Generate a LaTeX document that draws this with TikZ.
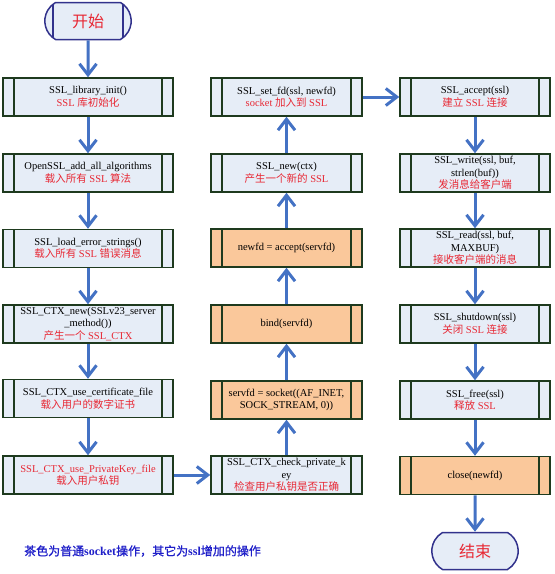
\documentclass[tikz,border=0pt]{standalone}
\usepackage{fontspec}
\setmainfont{Liberation Serif}
\newfontfamily\cjk{Noto Sans CJK SC}
\newfontfamily\cjknote{Noto Sans CJK SC}[FakeBold=1]
\usetikzlibrary{arrows.meta,shapes.misc}
\definecolor{boxblue}{RGB}{230,237,247}
\definecolor{boxtan}{RGB}{250,200,155}
\definecolor{boxline}{RGB}{30,58,30}
\definecolor{flowblue}{RGB}{68,114,196}
\definecolor{textred}{RGB}{232,40,52}
\definecolor{noteblue}{RGB}{30,30,200}
\definecolor{termline}{RGB}{50,50,140}
\newcommand{\zh}[1]{{\cjk #1}}
\newcommand{\zhnote}[1]{{\cjknote #1}}
\newcommand{\redline}[1]{{\color{textred}#1}}
\tikzset{
  proc/.style={draw=boxline, line width=1.5pt, fill=boxblue, minimum height=38pt,
    inner sep=0pt, align=center, font=\fontsize{10.5}{12.5}\selectfont,
    path picture={\draw[boxline, line width=1.5pt]
      ([xshift=11pt]path picture bounding box.north west) -- ([xshift=11pt]path picture bounding box.south west)
      ([xshift=-11pt]path picture bounding box.north east) -- ([xshift=-11pt]path picture bounding box.south east);}},
  leftproc/.style={proc, minimum width=170pt},
  midproc/.style={proc, minimum width=151pt},
  rightproc/.style={proc, minimum width=150pt},
  sock/.style={fill=boxtan},
  term/.style={rounded rectangle, rounded rectangle arc length=120, draw=termline,
    line width=1.5pt, fill=boxblue, minimum width=93pt, minimum height=37pt,
    font=\cjk\fontsize{16}{16}\selectfont, text=textred},
  flow/.style={-{Straight Barb[length=11pt,width=17pt]}, flowblue, line width=3pt}
}
\begin{document}
\begin{tikzpicture}[x=1pt,y=-1pt]
    \useasboundingbox (0,0) rectangle (555,574);
    \node[term, path picture={\draw[termline, line width=1.5pt]
      ([xshift=11pt]path picture bounding box.north west) -- ([xshift=11pt]path picture bounding box.south west)
      ([xshift=-11pt]path picture bounding box.north east) -- ([xshift=-11pt]path picture bounding box.south east);}]
      (start) at (88,21) {开始};
    \node[leftproc] (init) at (88,97) {SSL\_library\_init()\\\redline{SSL \zh{库初始化}}};
    \node[leftproc] (addalg) at (88,173) {OpenSSL\_add\_all\_algorithms\\\redline{\zh{载入所有} SSL \zh{算法}}};
    \node[leftproc] (loaderr) at (88,248.5) {SSL\_load\_error\_strings()\\\redline{\zh{载入所有} SSL \zh{错误消息}}};
    \node[leftproc] (ctxnew) at (88,324) {SSL\_CTX\_new(SSLv23\_server\\\_method())\\\redline{\zh{产生一个} SSL\_CTX}};
    \node[leftproc] (cert) at (88,398.5) {SSL\_CTX\_use\_certificate\_file\\\redline{\zh{载入用户的数字证书}}};
    \node[leftproc] (privkey) at (88,475) {\redline{SSL\_CTX\_use\_PrivateKey\_file}\\\redline{\zh{载入用户私钥}}};
    \node[midproc] (checkkey) at (286.5,475) {SSL\_CTX\_check\_private\_k\\ey\\\redline{\zh{检查用户私钥是否正确}}};
    \node[midproc, sock] (socket) at (286.5,400) {servfd = socket((AF\_INET,\\SOCK\_STREAM, 0))};
    \node[midproc, sock] (bind) at (286.5,324) {bind(servfd)};
    \node[midproc, sock] (accept) at (286.5,248) {newfd = accept(servfd)};
    \node[midproc] (sslnew) at (286.5,173) {SSL\_new(ctx)\\\redline{\zh{产生一个新的} SSL}};
    \node[midproc] (setfd) at (286.5,97) {SSL\_set\_fd(ssl, newfd)\\\redline{socket \zh{加入到} SSL}};
    \node[rightproc] (sslaccept) at (475,97) {SSL\_accept(ssl)\\\redline{\zh{建立} SSL \zh{连接}}};
    \node[rightproc] (write) at (475,173) {SSL\_write(ssl, buf,\\strlen(buf))\\\redline{\zh{发消息给客户端}}};
    \node[rightproc] (read) at (475,248) {SSL\_read(ssl, buf,\\MAXBUF)\\\redline{\zh{接收客户端的消息}}};
    \node[rightproc] (shutdown) at (475,324) {SSL\_shutdown(ssl)\\\redline{\zh{关闭} SSL \zh{连接}}};
    \node[rightproc] (free) at (475,400) {SSL\_free(ssl)\\\redline{\zh{释放} SSL}};
    \node[rightproc, sock] (close) at (475,475.5) {close(newfd)};
    \node[term] (finish) at (475,551) {结束};
    \node[anchor=west, inner sep=0pt, text=noteblue, font=\fontsize{12}{12}\selectfont] (note) at (24,551)
      {\zhnote{茶色为普通}\textbf{socket}\zhnote{操作，其它为}\textbf{ssl}\zhnote{增加的操作}};
    \draw[flow] (start) -- (init);
    \draw[flow] (init) -- (addalg);
    \draw[flow] (addalg) -- (loaderr);
    \draw[flow] (loaderr) -- (ctxnew);
    \draw[flow] (ctxnew) -- (cert);
    \draw[flow] (cert) -- (privkey);
    \draw[flow] (privkey) -- (checkkey);
    \draw[flow] (checkkey) -- (socket);
    \draw[flow] (socket) -- (bind);
    \draw[flow] (bind) -- (accept);
    \draw[flow] (accept) -- (sslnew);
    \draw[flow] (sslnew) -- (setfd);
    \draw[flow] (setfd) -- (sslaccept);
    \draw[flow] (sslaccept) -- (write);
    \draw[flow] (write) -- (read);
    \draw[flow] (read) -- (shutdown);
    \draw[flow] (shutdown) -- (free);
    \draw[flow] (free) -- (close);
    \draw[flow] (close) -- (finish);
\end{tikzpicture}
\end{document}
